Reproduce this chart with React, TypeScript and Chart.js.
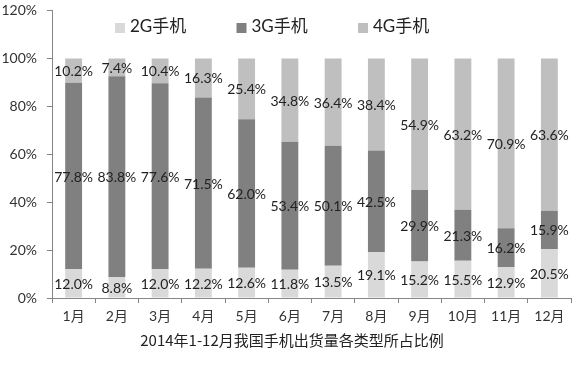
import React, { useEffect, useRef } from "react";
import { Chart, registerables } from "chart.js";

Chart.register(...registerables);

const months = ["1月", "2月", "3月", "4月", "5月", "6月", "7月", "8月", "9月", "10月", "11月", "12月"];
const series2G = [12.0, 8.8, 12.0, 12.2, 12.6, 11.8, 13.5, 19.1, 15.2, 15.5, 12.9, 20.5];
const series3G = [77.8, 83.8, 77.6, 71.5, 62.0, 53.4, 50.1, 42.5, 29.9, 21.3, 16.2, 15.9];
const series4G = [10.2, 7.4, 10.4, 16.3, 25.4, 34.8, 36.4, 38.4, 54.9, 63.2, 70.9, 63.6];
const seriesNames = ["2G手机", "3G手机", "4G手机"];
const seriesColors = ["#d9d9d9", "#808080", "#bfbfbf"];
const yTicks = [0, 20, 40, 60, 80, 100, 120];
const titleText = "2014年1-12月我国手机出货量各类型所占比例";

const FONT = "Lato, 'Noto Sans CJK SC', sans-serif";
const AXIS_COLOR = "#868686";
const TEXT_COLOR = "#333333";

const labelPlugin = {
  id: "segLabels",
  afterDatasetsDraw(chart: any) {
    const ctx = chart.ctx;
    ctx.save();
    ctx.font = `14px ${FONT}`;
    ctx.fillStyle = "#222";
    ctx.textAlign = "center";
    ctx.textBaseline = "middle";
    chart.data.datasets.forEach((ds: any, i: number) => {
      const meta = chart.getDatasetMeta(i);
      meta.data.forEach((el: any, j: number) => {
        const v = ds.data[j];
        const cy = (el.y + el.base) / 2;
        ctx.fillText(v.toFixed(1) + "%", el.x, cy + 1);
      });
    });
    ctx.restore();
  },
};

const legendTitlePlugin = {
  id: "legendTitle",
  afterDraw(chart: any) {
    const ctx = chart.ctx;
    ctx.save();
    const startX = 115;
    const step = 121.5;
    const y = 28;
    chart.data.datasets.forEach((ds: any, i: number) => {
      const x = startX + i * step;
      ctx.fillStyle = ds.backgroundColor;
      ctx.fillRect(x, y - 5, 10, 10);
      ctx.fillStyle = "#222";
      ctx.font = `17px ${FONT}`;
      ctx.textAlign = "left";
      ctx.textBaseline = "middle";
      ctx.fillText(ds.label, x + 15, y - 1);
    });
    ctx.font = `15px 'Noto Sans CJK SC', ${FONT}`;
    ctx.fillStyle = "#222";
    ctx.textAlign = "center";
    ctx.textBaseline = "middle";
    ctx.fillText(titleText, 292, 340);
    ctx.restore();
  },
};

export default function App() {
  const ref = useRef<HTMLCanvasElement | null>(null);
  useEffect(() => {
    if (!ref.current) return;
    const chart = new Chart(ref.current, {
      type: "bar",
      data: {
        labels: months,
        datasets: [
          { label: seriesNames[0], data: series2G, backgroundColor: seriesColors[0] },
          { label: seriesNames[1], data: series3G, backgroundColor: seriesColors[1] },
          { label: seriesNames[2], data: series4G, backgroundColor: seriesColors[2] },
        ],
      },
      options: {
        animation: false,
        responsive: false,
        maintainAspectRatio: false,
        layout: { padding: { top: 10.5, right: 1, bottom: 0, left: 0 } },
        datasets: { bar: { categoryPercentage: 1, barPercentage: 0.39 } },
        plugins: { legend: { display: false }, title: { display: false }, tooltip: { enabled: false } },
        scales: {
          x: {
            stacked: true,
            grid: { drawOnChartArea: false, drawTicks: true, tickLength: 5, color: AXIS_COLOR, offset: true },
            border: { color: AXIS_COLOR },
            ticks: { color: TEXT_COLOR, font: { family: FONT, size: 14 }, padding: 5, maxRotation: 0, autoSkip: false },
            afterFit: (s: any) => { s.height = 71; s.paddingLeft = 0; s.paddingRight = 0; },
          },
          y: {
            stacked: true,
            min: 0,
            max: 120,
            afterBuildTicks: (s: any) => { s.ticks = yTicks.map((v) => ({ value: v })); },
            grid: { drawOnChartArea: false, drawTicks: true, tickLength: 5, color: AXIS_COLOR },
            border: { color: AXIS_COLOR },
            ticks: {
              color: TEXT_COLOR,
              font: { family: FONT, size: 14 },
              padding: 10,
              callback: (v: any) => v + "%",
            },
            afterFit: (s: any) => { s.width = 52; s.paddingTop = 0; s.paddingBottom = 0; },
          },
        },
      },
      plugins: [labelPlugin, legendTitlePlugin],
    });
    return () => chart.destroy();
  }, []);
  return (
    <div style={{ position: "fixed", left: 0, top: 0, width: 572, height: 369, background: "#fff" }}>
      <canvas ref={ref} width={572} height={369} style={{ width: 572, height: 369 }} />
    </div>
  );
}
